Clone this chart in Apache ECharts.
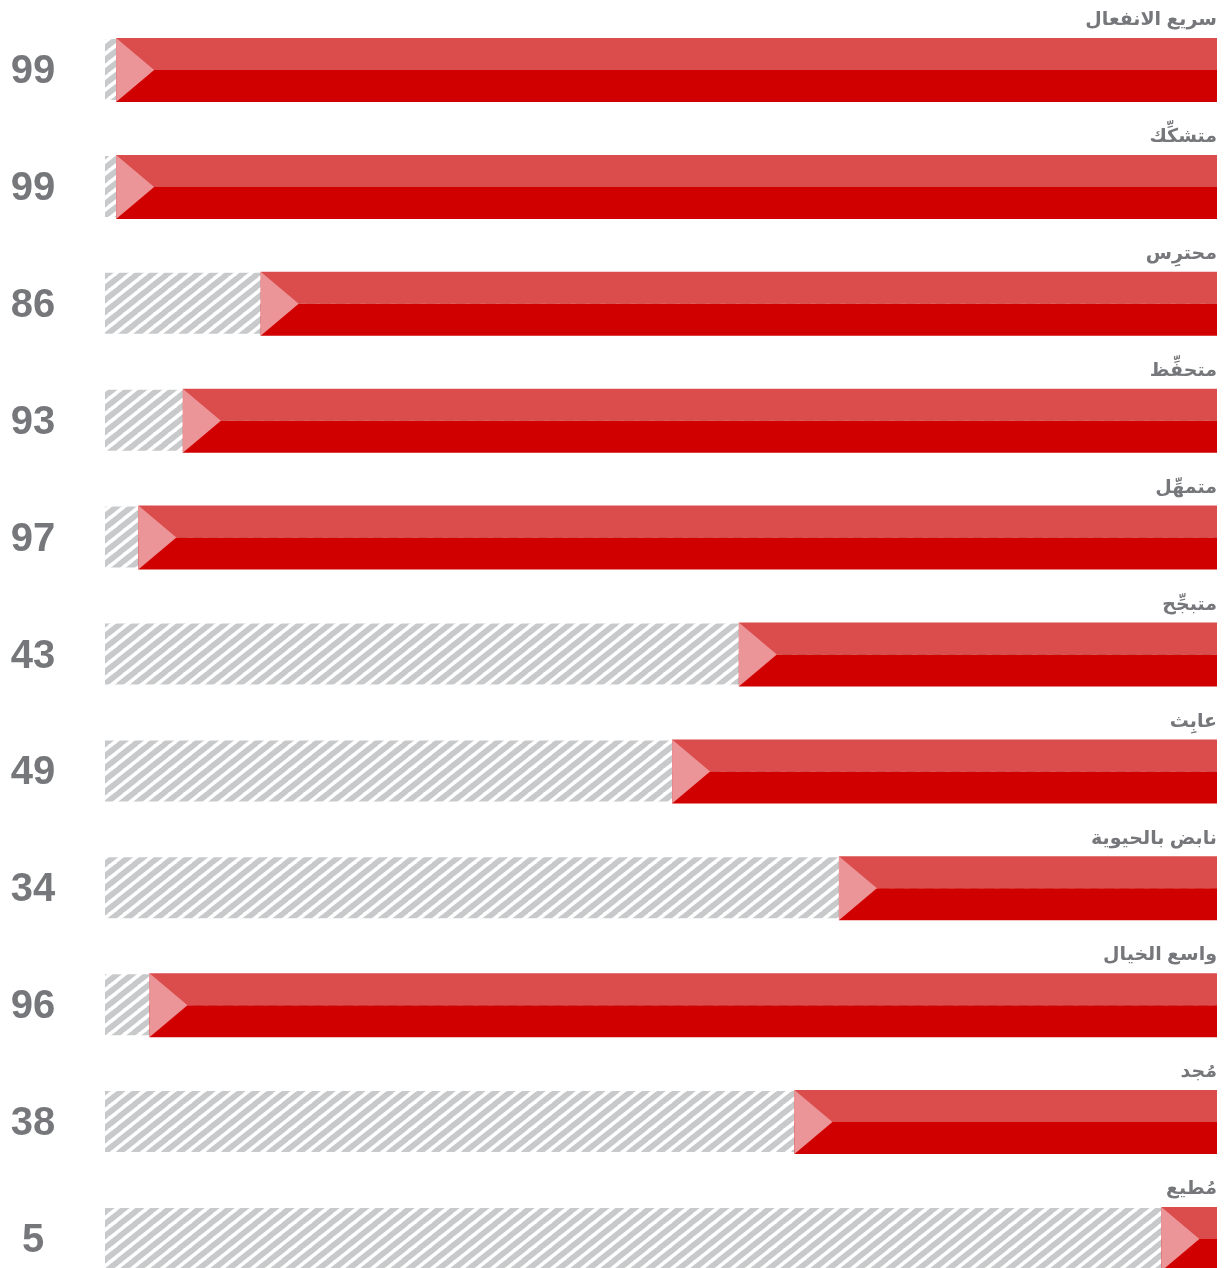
<!DOCTYPE html>
<html>
<head>
<meta charset="utf-8">
<script src="https://cdn.jsdelivr.net/npm/echarts@6/dist/echarts.min.js"></script>
<style>
html,body{margin:0;padding:0;background:#fff;}
#chart{width:1232px;height:1268px;}
</style>
</head>
<body>
<div id="chart"></div>
<script>
const categories = ['سريع الانفعال','متشكِّك','محترِس','متحفِّظ','متمهِّل','متبجِّح','عابِث','نابض بالحيوية','واسع الخيال','مُجد','مُطيع'];
const values = [99, 99, 86, 93, 97, 43, 49, 34, 96, 38, 5];
const maxValue = 100;

// diagonal hatch pattern
const pc = document.createElement('canvas');
const PW = 15, PH = 12;
pc.width = PW; pc.height = PH;
const g = pc.getContext('2d');
g.fillStyle = '#ffffff';
g.fillRect(0, 0, PW, PH);
g.strokeStyle = '#c8c9cb';
g.lineWidth = 5.8;
for (let k = -1; k <= 1; k++) {
  g.beginPath();
  g.moveTo(k * PW - 2, PH + 2 * PH / PW);
  g.lineTo(k * PW + PW + 2, -2 * PH / PW);
  g.stroke();
}

const chart = echarts.init(document.getElementById('chart'));
const fontStack = 'Arial, "Liberation Sans", "DejaVu Sans", sans-serif';

chart.setOption({
  animation: false,
  grid: { left: 105, right: 15, top: 70, bottom: 29, containLabel: false },
  xAxis: { type: 'value', min: 0, max: maxValue, inverse: true, show: false },
  yAxis: { type: 'category', data: categories, inverse: true, show: false, boundaryGap: false },
  series: [{
    type: 'custom',
    data: values.map((v, i) => [v, i]),
    encode: { x: 0, y: 1 },
    renderItem: function (params, api) {
      const v = api.value(0);
      const idx = api.value(1);
      const right = api.coord([0, idx]);
      const left = api.coord([v, idx]);
      const full = api.coord([maxValue, idx]);
      const cy = right[1];
      const h = 32;
      const x1 = left[0], x2 = right[0];
      return {
        type: 'group',
        children: [
          { type: 'rect', shape: { x: full[0], y: cy - 31, width: x2 - full[0], height: 61 },
            style: { fill: { image: pc, repeat: 'repeat' } } },
          { type: 'rect', shape: { x: x1, y: cy - h, width: x2 - x1, height: h },
            style: { fill: '#db4d4d' } },
          { type: 'rect', shape: { x: x1, y: cy, width: x2 - x1, height: h },
            style: { fill: '#d00000' } },
          { type: 'polygon', shape: { points: [[x1, cy - h], [x1 + 38, cy], [x1, cy + h]] },
            style: { fill: '#ec9598' } },
          { type: 'text', style: { text: String(v), x: 33, y: cy + 2, align: 'center', verticalAlign: 'middle',
              fill: '#76777a', font: 'bold 40px ' + fontStack } },
          { type: 'text', style: { text: categories[idx], x: x2, y: cy - h - 18, align: 'right', verticalAlign: 'middle',
              fill: '#76777a', font: 'bold 19px ' + fontStack } }
        ]
      };
    }
  }]
});
</script>
</body>
</html>
